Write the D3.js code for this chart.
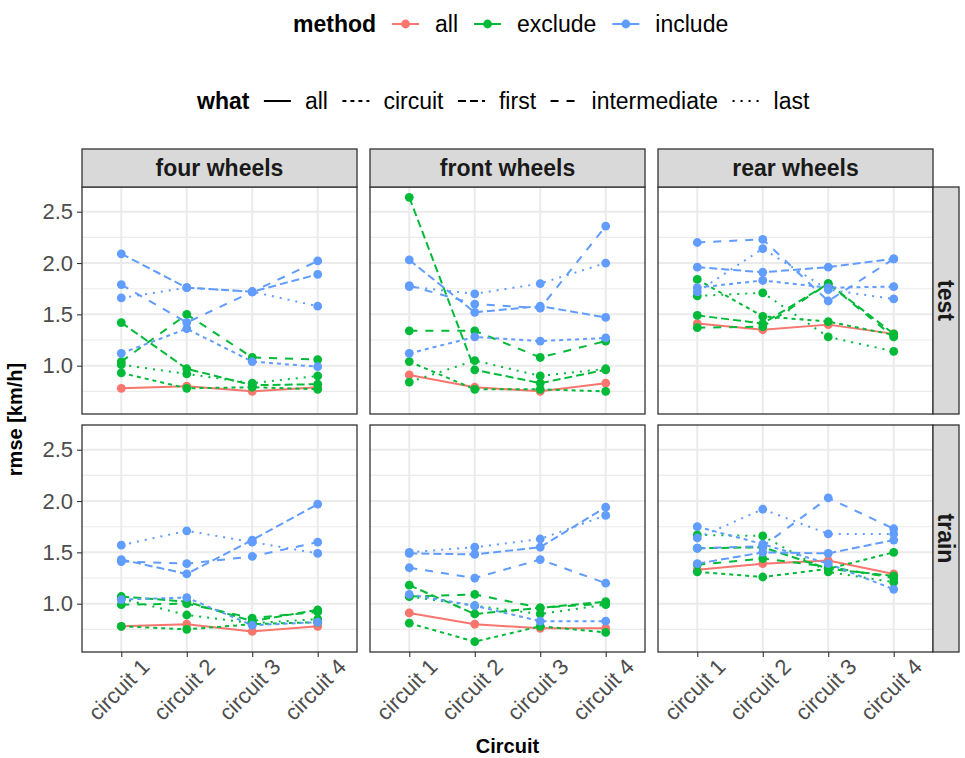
<!DOCTYPE html>
<html>
<head>
<meta charset="utf-8">
<script src="https://cdn.jsdelivr.net/npm/d3@7"></script>
<style>
  body { margin: 0; background: #fff; }
  svg { display: block; }
  text { font-family: "Liberation Sans", Arial, Helvetica, sans-serif; }
</style>
</head>
<body>
<svg id="chart" width="965" height="758"></svg>
<script>
// Categories
const circuits = ["circuit 1", "circuit 2", "circuit 3", "circuit 4"];
const wheelSets = ["four wheels", "front wheels", "rear wheels"];
const splits = ["test", "train"];
const methods = ["all", "exclude", "include"];
const whats = ["all", "circuit", "first", "intermediate", "last"];
const yTicks = [1.0, 1.5, 2.0, 2.5];

// rmse [km/h] per panel: [method, what, circuit 1..4]
const testFour = [
  ["all", "all", 0.78, 0.80, 0.75, 0.79],
  ["exclude", "circuit", 0.93, 0.78, 0.79, 0.77],
  ["exclude", "first", 1.42, 0.97, 0.81, 0.82],
  ["exclude", "intermediate", 1.04, 1.50, 1.08, 1.06],
  ["exclude", "last", 1.01, 0.92, 0.83, 0.90],
  ["include", "circuit", 1.12, 1.36, 1.04, 0.99],
  ["include", "first", 2.09, 1.76, 1.72, 1.89],
  ["include", "intermediate", 1.79, 1.42, 1.72, 2.02],
  ["include", "last", 1.66, 1.76, 1.72, 1.58]
];
const testFront = [
  ["all", "all", 0.91, 0.79, 0.75, 0.83],
  ["exclude", "circuit", 1.04, 0.77, 0.77, 0.75],
  ["exclude", "first", 2.64, 0.96, 0.83, 0.96],
  ["exclude", "intermediate", 1.34, 1.34, 1.08, 1.24],
  ["exclude", "last", 0.84, 1.05, 0.90, 0.97],
  ["include", "circuit", 1.12, 1.28, 1.24, 1.27],
  ["include", "first", 2.03, 1.52, 1.58, 1.47],
  ["include", "intermediate", 1.78, 1.60, 1.56, 2.36],
  ["include", "last", 1.77, 1.70, 1.80, 2.00]
];
const testRear = [
  ["all", "all", 1.41, 1.35, 1.40, 1.31],
  ["exclude", "circuit", 1.84, 1.48, 1.43, 1.30],
  ["exclude", "first", 1.49, 1.41, 1.80, 1.31],
  ["exclude", "intermediate", 1.37, 1.38, 1.80, 1.28],
  ["exclude", "last", 1.68, 1.71, 1.28, 1.14],
  ["include", "circuit", 1.76, 1.83, 1.76, 1.77],
  ["include", "first", 1.96, 1.91, 1.96, 2.04],
  ["include", "intermediate", 2.20, 2.23, 1.63, 2.04],
  ["include", "last", 1.72, 2.14, 1.74, 1.65]
];
const trainFour = [
  ["all", "all", 0.78, 0.80, 0.73, 0.78],
  ["exclude", "circuit", 0.78, 0.75, 0.80, 0.82],
  ["exclude", "first", 1.07, 1.02, 0.83, 0.94],
  ["exclude", "intermediate", 0.99, 1.00, 0.86, 0.92],
  ["exclude", "last", 1.05, 0.89, 0.81, 0.85],
  ["include", "circuit", 1.04, 1.06, 0.79, 0.82],
  ["include", "first", 1.43, 1.29, 1.62, 1.97],
  ["include", "intermediate", 1.41, 1.39, 1.46, 1.60],
  ["include", "last", 1.57, 1.71, 1.60, 1.49]
];
const trainFront = [
  ["all", "all", 0.91, 0.80, 0.76, 0.76],
  ["exclude", "circuit", 0.81, 0.63, 0.78, 0.72],
  ["exclude", "first", 1.18, 0.90, 0.96, 1.02],
  ["exclude", "intermediate", 1.07, 1.09, 0.96, 1.00],
  ["exclude", "last", 1.07, 0.98, 0.90, 0.99],
  ["include", "circuit", 1.09, 0.98, 0.83, 0.83],
  ["include", "first", 1.49, 1.48, 1.55, 1.94],
  ["include", "intermediate", 1.35, 1.25, 1.43, 1.20],
  ["include", "last", 1.50, 1.55, 1.63, 1.86]
];
const trainRear = [
  ["all", "all", 1.33, 1.39, 1.42, 1.29],
  ["exclude", "circuit", 1.31, 1.26, 1.34, 1.50],
  ["exclude", "first", 1.54, 1.55, 1.34, 1.27],
  ["exclude", "intermediate", 1.38, 1.44, 1.36, 1.25],
  ["exclude", "last", 1.67, 1.66, 1.31, 1.21],
  ["include", "circuit", 1.75, 1.58, 1.39, 1.14],
  ["include", "first", 1.39, 1.50, 1.49, 1.62],
  ["include", "intermediate", 1.54, 1.56, 2.03, 1.73],
  ["include", "last", 1.64, 1.92, 1.68, 1.68]
];

const panelRows = [[testFour, testFront, testRear], [trainFour, trainFront, trainRear]];

// Styling
const colorScale = d3.scaleOrdinal().domain(methods).range(["#F8766D", "#00BA38", "#619CFF"]);
const LW = 2, U = 2;
const dashScale = d3.scaleOrdinal().domain(whats).range([null, [2, 2], [4, 2], [4, 4], [1, 3]]);
const dashFor = w => { const p = dashScale(w); return p ? p.map(v => v * U).join(" ") : null; };

const FONT_AXIS = 22, FONT_STRIP = 23, FONT_LEGEND = 23, FONT_TITLE = 20;

// Layout
const colLeft = [82, 370, 658], panelW = 275;
const rowTop = [187, 425], panelH = 227;
const stripTop = 149;
const rightStripX = 933, rightStripW = 26;

const svg = d3.select("#chart");

// Shared y domain with 5% expansion
const allVals = panelRows.flat(2).flatMap(r => r.slice(2));
const [lo, hi] = d3.extent(allVals);
const pad = (hi - lo) * 0.05;

function series(row) {
  return circuits.map((c, i) => ({ c, v: row[i + 2], method: row[0], what: row[1] }));
}

splits.forEach((split, ri) => {
  const top = rowTop[ri];
  const y = d3.scaleLinear().domain([lo - pad, hi + pad]).range([top + panelH, top]);
  wheelSets.forEach((ws, ci) => {
    const left = colLeft[ci];
    const x = d3.scalePoint().domain(circuits).range([left, left + panelW]).padding(0.6);
    const g = svg.append("g");

    // background and grid
    g.append("rect").attr("x", left).attr("y", top).attr("width", panelW).attr("height", panelH).attr("fill", "#fff");
    const minor = d3.range(0.75, 2.75, 0.5).filter(v => y(v) > top && y(v) < top + panelH);
    g.selectAll(".minor").data(minor).join("line")
      .attr("x1", left).attr("x2", left + panelW)
      .attr("y1", d => y(d)).attr("y2", d => y(d))
      .attr("stroke", "#EBEBEB").attr("stroke-width", 1.1);
    g.selectAll(".majorY").data(yTicks).join("line")
      .attr("x1", left).attr("x2", left + panelW)
      .attr("y1", d => y(d)).attr("y2", d => y(d))
      .attr("stroke", "#EBEBEB").attr("stroke-width", 2);
    g.selectAll(".majorX").data(circuits).join("line")
      .attr("x1", d => x(d)).attr("x2", d => x(d))
      .attr("y1", top).attr("y2", top + panelH)
      .attr("stroke", "#EBEBEB").attr("stroke-width", 2);

    // lines then points
    const rows = panelRows[ri][ci];
    const line = d3.line().x(d => x(d.c)).y(d => y(d.v));
    g.selectAll(".series").data(rows).join("path")
      .attr("d", r => line(series(r)))
      .attr("fill", "none")
      .attr("stroke", r => colorScale(r[0]))
      .attr("stroke-width", LW)
      .attr("stroke-linecap", "butt")
      .attr("stroke-linejoin", "round")
      .attr("stroke-dasharray", r => dashFor(r[1]));
    rows.forEach(r => {
      g.selectAll(null).data(series(r)).join("circle")
        .attr("cx", d => x(d.c)).attr("cy", d => y(d.v)).attr("r", 4.4)
        .attr("fill", colorScale(r[0]));
    });

    // panel border
    g.append("rect").attr("x", left).attr("y", top).attr("width", panelW).attr("height", panelH)
      .attr("fill", "none").attr("stroke", "#333333").attr("stroke-width", 1.3);

    // y axis on first column
    if (ci === 0) {
      const ax = svg.append("g").attr("transform", `translate(${left},0)`)
        .call(d3.axisLeft(y).tickValues(yTicks).tickFormat(d3.format(".1f")).tickSize(5).tickPadding(4));
      ax.select(".domain").remove();
      ax.selectAll(".tick line").attr("stroke", "#333333").attr("stroke-width", 1.1);
      ax.selectAll(".tick text").attr("fill", "#4D4D4D").attr("font-size", FONT_AXIS)
        .attr("font-family", null);
    }
    // x axis on bottom row
    if (ri === splits.length - 1) {
      const ax = svg.append("g").attr("transform", `translate(0,${top + panelH})`)
        .call(d3.axisBottom(x).tickSize(5).tickPadding(4));
      ax.select(".domain").remove();
      ax.selectAll(".tick line").attr("stroke", "#333333").attr("stroke-width", 1.1);
      ax.selectAll(".tick text").attr("fill", "#4D4D4D").attr("font-size", FONT_AXIS)
        .attr("font-family", null)
        .attr("y", 0).attr("dy", "0.72em").attr("text-anchor", "end")
        .attr("transform", "translate(18,5) rotate(-45)");
    }

    // top strips
    if (ri === 0) {
      svg.append("rect").attr("x", left).attr("y", stripTop).attr("width", panelW).attr("height", top - stripTop)
        .attr("fill", "#D9D9D9").attr("stroke", "#333333").attr("stroke-width", 1.3);
      svg.append("text").attr("x", left + panelW / 2).attr("y", (stripTop + top) / 2)
        .attr("dy", "0.35em").attr("text-anchor", "middle")
        .attr("font-size", FONT_STRIP).attr("font-weight", "bold").attr("fill", "#1A1A1A").text(ws);
    }
  });
  // right strip
  svg.append("rect").attr("x", rightStripX).attr("y", top).attr("width", rightStripW).attr("height", panelH)
    .attr("fill", "#D9D9D9").attr("stroke", "#333333").attr("stroke-width", 1.3);
  svg.append("text")
    .attr("transform", `translate(${rightStripX + rightStripW / 2},${top + panelH / 2}) rotate(90)`)
    .attr("dy", "0.35em").attr("text-anchor", "middle")
    .attr("font-size", FONT_STRIP).attr("font-weight", "bold").attr("fill", "#1A1A1A").text(split);
});

// axis titles
svg.append("text")
  .attr("transform", `translate(15,${rowTop[0] + (rowTop[1] + panelH - rowTop[0]) / 2}) rotate(-90)`)
  .attr("dy", "0.35em").attr("text-anchor", "middle")
  .attr("font-size", FONT_TITLE).attr("font-weight", "bold").attr("fill", "#000").text("rmse [km/h]");
svg.append("text")
  .attr("x", (colLeft[0] + colLeft[2] + panelW) / 2).attr("y", 753)
  .attr("text-anchor", "middle")
  .attr("font-size", FONT_TITLE).attr("font-weight", "bold").attr("fill", "#000").text("Circuit");

// legends
function legendRow(startX, baseline, title, items, gapKey, gapItem, drawKey) {
  const g = svg.append("g");
  let cx = startX;
  const t = g.append("text").attr("x", cx).attr("y", baseline)
    .attr("font-size", FONT_LEGEND).attr("font-weight", "bold").attr("fill", "#000").text(title);
  cx += t.node().getComputedTextLength() + gapItem;
  items.forEach(item => {
    const kw = 27, midY = baseline - 8;
    drawKey(g, item, cx, cx + kw, midY);
    cx += kw + gapKey;
    const lab = g.append("text").attr("x", cx).attr("y", baseline)
      .attr("font-size", FONT_LEGEND).attr("fill", "#000").text(item);
    cx += lab.node().getComputedTextLength() + gapItem;
  });
}

legendRow(293, 32, "method", methods, 16, 16, (g, m, x0, x1, my) => {
  g.append("line").attr("x1", x0).attr("x2", x1).attr("y1", my).attr("y2", my)
    .attr("stroke", colorScale(m)).attr("stroke-width", LW);
  g.append("circle").attr("cx", (x0 + x1) / 2).attr("cy", my).attr("r", 4.4).attr("fill", colorScale(m));
});
legendRow(197, 109, "what", whats, 14, 14.5, (g, w, x0, x1, my) => {
  g.append("line").attr("x1", x0).attr("x2", x1).attr("y1", my).attr("y2", my)
    .attr("stroke", "#000").attr("stroke-width", LW)
    .attr("stroke-dasharray", dashFor(w));
});
</script>
</body>
</html>
